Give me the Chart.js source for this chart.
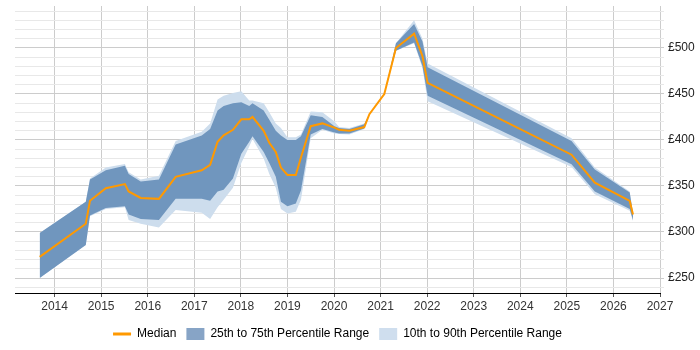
<!DOCTYPE html>
<html>
<head>
<meta charset="utf-8">
<script src="https://cdn.jsdelivr.net/npm/chart.js@4"></script>
<style>
  html, body { margin: 0; padding: 0; background: #fff; }
  #wrap { width: 700px; height: 350px; }
</style>
</head>
<body>
<div id="wrap"><canvas id="rateChart"></canvas></div>
<script>
// dates as decimal years
const years = [2013.68, 2014.67, 2014.76, 2015.10, 2015.51, 2015.59, 2015.85, 2016.24, 2016.60,
    2017.16, 2017.34, 2017.50, 2017.63, 2017.83, 2018.01, 2018.18, 2018.25, 2018.49, 2018.61,
    2018.75, 2018.86, 2019.00, 2019.18, 2019.29, 2019.50, 2019.75, 2020.01, 2020.11, 2020.33,
    2020.65, 2020.76, 2021.08, 2021.33, 2021.72, 2021.90, 2022.01, 2025.10, 2025.60, 2026.35, 2026.42];

const median = [273, 309, 334, 347.5, 352, 344, 337, 336, 360,
    367, 373, 398, 405, 411, 422.5, 422.5, 425, 410, 397,
    387, 370, 362, 362, 381, 415, 418, 413.5, 411, 410,
    414, 428, 450, 500, 515.5, 491, 462, 384, 353.6, 333.7, 319];

const p25 = [250, 286, 318, 326, 328, 319, 314, 313, 336,
    336, 334, 344, 346, 358, 385, 398, 404, 387, 375,
    360, 333, 328, 331, 345, 406, 412, 408, 407, 407,
    412.5, 428, 450, 497, 506, 480, 448, 373.6, 344, 325, 313];

const p75 = [299, 333, 357, 367, 372, 363, 355, 357, 395,
    405, 412, 432, 437, 440, 441, 437, 440, 432, 422,
    410, 405, 400, 400, 404, 427, 425, 415, 413, 412,
    417, 428, 450, 505, 526, 507, 479, 399, 368, 343, 320];

const p10 = [250, 286, 317, 325, 327, 313, 309, 305, 324,
    321, 314, 327, 335, 348, 375, 393, 401, 380, 363,
    348, 325, 320, 322, 335, 402, 411, 407, 406.5, 406,
    412, 428, 450, 497, 505, 478, 442, 370.7, 341, 323, 312];

const p90 = [299, 333, 358, 370, 374, 365, 357, 361, 399,
    409, 418, 444, 448, 451, 453, 443, 443, 440, 430,
    418, 413, 403, 403, 406, 431, 430, 420, 414, 413,
    418, 428, 450, 505, 530, 510, 483, 402, 370, 344, 321];

const xTicks = [2014, 2015, 2016, 2017, 2018, 2019, 2020, 2021, 2022, 2023, 2024, 2025, 2026, 2027];

const orange = '#ff9900';
const darkBand = '#7096be';
const lightBand = '#cddded';

function pts(vals) {
    return vals.map((v, i) => ({ x: years[i], y: v }));
}

// centre the legend under the plot area instead of the whole canvas
const legendUnderPlot = {
    id: 'legendUnderPlot',
    afterLayout(chart) {
        const a = chart.chartArea;
        chart.legend.left = a.left;
        chart.legend.right = a.right;
        chart.legend.width = a.right - a.left;
    }
};

Chart.defaults.font.family = '"Liberation Sans", Arial, sans-serif';
Chart.defaults.font.size = 12;
Chart.defaults.color = '#333';

const ctx = document.getElementById('rateChart').getContext('2d');
new Chart(ctx, {
    type: 'line',
    data: {
        datasets: [
            { label: 'Median', data: pts(median), borderColor: orange, borderWidth: 2, pointRadius: 0, fill: false, tension: 0 },
            { label: '', data: pts(p25), borderWidth: 0, pointRadius: 0, fill: false },
            { label: '25th to 75th Percentile Range', data: pts(p75), borderWidth: 0, pointRadius: 0, backgroundColor: darkBand, fill: '-1' },
            { label: '', data: pts(p10), borderWidth: 0, pointRadius: 0, fill: false },
            { label: '10th to 90th Percentile Range', data: pts(p90), borderWidth: 0, pointRadius: 0, backgroundColor: lightBand, fill: '-1' }
        ]
    },
    options: {
        responsive: true,
        maintainAspectRatio: false,
        animation: false,
        layout: { padding: { left: 15, top: 6, right: 0, bottom: 0 } },
        scales: {
            x: {
                type: 'linear',
                min: 2013.15,
                max: 2027,
                afterBuildTicks: function(scale) {
                    scale.ticks = xTicks.map(v => ({ value: v }));
                },
                afterFit: function(scale) {
                    scale.height = 25;
                    scale.paddingLeft = 0;
                    scale.paddingRight = 0;
                },
                ticks: {
                    callback: v => String(v),
                    maxRotation: 0,
                    autoSkip: false,
                    padding: 2
                },
                grid: { color: '#cccccc', tickLength: 4, tickColor: '#555' },
                border: { color: '#000', width: 1 }
            },
            y: {
                position: 'right',
                min: 233.7,
                max: 545.6,
                afterFit: function(scale) {
                    scale.width = 40;
                    scale.paddingTop = 0;
                    scale.paddingBottom = 0;
                },
                ticks: {
                    stepSize: 10,
                    maxTicksLimit: 100,
                    autoSkip: false,
                    includeBounds: false,
                    padding: 4,
                    color: '#222',
                    callback: v => (v % 50 === 0 ? '£' + v : '')
                },
                grid: {
                    tickLength: 4,
                    color: c => (c.tick && c.tick.value % 50 === 0 ? '#cccccc' : '#e8e8e8')
                },
                border: { display: false }
            }
        },
        plugins: {
            tooltip: { enabled: false },
            legend: {
                position: 'bottom',
                labels: {
                    usePointStyle: true,
                    pointStyleWidth: 18,
                    boxHeight: 13,
                    padding: 10,
                    color: '#333',
                    generateLabels: function(chart) {
                        return [
                            { text: 'Median', pointStyle: 'line', strokeStyle: orange, fillStyle: orange, lineWidth: 3, datasetIndex: 0 },
                            { text: '25th to 75th Percentile Range', pointStyle: 'rect', strokeStyle: '#87a4c6', fillStyle: '#87a4c6', lineWidth: 0, datasetIndex: 2 },
                            { text: '10th to 90th Percentile Range', pointStyle: 'rect', strokeStyle: '#cfdeee', fillStyle: '#cfdeee', lineWidth: 0, datasetIndex: 4 }
                        ];
                    }
                }
            }
        }
    },
    plugins: [legendUnderPlot]
});
</script>
</body>
</html>
